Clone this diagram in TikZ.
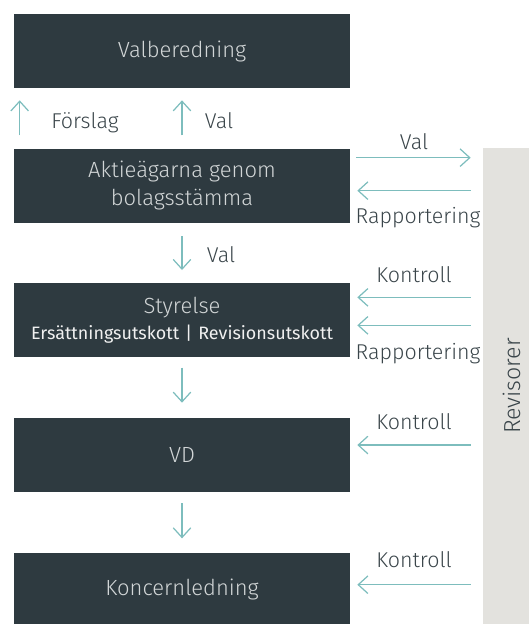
\documentclass[tikz,border=0pt]{standalone}
\usepackage{fontspec}
\setmainfont{Fira Sans Light}
\newfontfamily\subfont{Fira Sans}
\usetikzlibrary{arrows.meta}
\usetikzlibrary{calc}
\usetikzlibrary{positioning}
\definecolor{boxfill}{HTML}{2E3A40}
\definecolor{boxtext}{HTML}{D2D6D7}
\definecolor{flowcol}{HTML}{7DBDBD}
\definecolor{lbltext}{HTML}{3A454A}
\definecolor{barfill}{HTML}{E3E2DE}

\begin{document}
\begin{tikzpicture}[
x=0.02cm, y=-0.02cm,
box/.style={rectangle, fill=boxfill, text=boxtext, minimum width=6.72cm, minimum height=1.48cm, inner sep=0, align=center, font=\fontsize{12.5}{16}\selectfont},
flow/.style={draw=flowcol, line width=0.7pt, -{Straight Barb[length=5.5pt,width=10pt,line width=0.7pt]}},
lbl/.style={text=lbltext, inner sep=0, anchor=base, font=\fontsize{12.2}{15}\selectfont},
node distance=1.2cm
]
\useasboundingbox (0,0) rectangle (529,624);
% boxes
\node [box] (valberedning) at (182,51) {Valberedning};
\node [box, below=of valberedning] (stamma) {Aktieägarna genom\\bolagsstämma};
\node [box, below=of stamma] (styrelse) {Styrelse\\[-1pt]{\subfont\fontsize{10.2}{12}\selectfont\color{white!94!black}Ersättningsutskott\,\,|\,\,Revisionsutskott}};
\node [box, below=of styrelse] (vd) {VD};
\node [box, below=of vd] (koncern) {Koncernledning};
% revisorer
\node [rectangle, fill=barfill, minimum width=9.52cm, minimum height=0.92cm, inner sep=0, rotate=90] (revisorer) at (506,386) {};
\node [lbl, anchor=center, rotate=90, font=\fontsize{13.2}{15}\selectfont] (revlbl) at (512,386) {Revisorer};

% vertical arrows
\draw[flow, shorten <=0.26cm, shorten >=0.24cm] ($(stamma.north west)+(6,0)$) -- ($(valberedning.south west)+(6,0)$);
\draw[flow, shorten <=0.26cm, shorten >=0.24cm] (stamma.north) -- (valberedning.south);
\draw[flow, shorten <=0.26cm, shorten >=0.26cm] (stamma.south) -- (styrelse.north);
\draw[flow, shorten <=0.2cm, shorten >=0.3cm] (styrelse.south) -- (vd.north);
\draw[flow, shorten <=0.22cm, shorten >=0.28cm] (vd.south) -- (koncern.north);
\node [lbl] (forslag) at (85,129) {Förslag};
\node [lbl] (valupp) at (219,129) {Val};
\node [lbl] (valned) at (221,263) {Val};

% horizontal arrows
\draw[flow] ($(stamma.east)+(6,-28)$) -- ($(stamma.east -| revisorer.north)+(-12,-28)$);
\draw[flow] ($(stamma.east -| revisorer.north)+(-12,5)$) -- ($(stamma.east)+(7,5)$);
\draw[flow] ($(styrelse.east -| revisorer.north)+(-12,-23)$) -- ($(styrelse.east)+(7,-23)$);
\draw[flow] ($(styrelse.east -| revisorer.north)+(-12,5)$) -- ($(styrelse.east)+(7,5)$);
\draw[flow] ($(vd.east -| revisorer.north)+(-12,-10)$) -- ($(vd.east)+(7,-10)$);
\draw[flow] ($(koncern.east -| revisorer.north)+(-12,-5)$) -- ($(koncern.east)+(7,-5)$);
\node [lbl] (valrev) at (414,150) {Val};
\node [lbl] (rapp1) at (418,224) {Rapportering};
\node [lbl] (kontroll1) at (414,282) {Kontroll};
\node [lbl] (rapp2) at (418,359) {Rapportering};
\node [lbl] (kontroll2) at (414,429) {Kontroll};
\node [lbl] (kontroll3) at (414,567) {Kontroll};
\end{tikzpicture}
\end{document}
